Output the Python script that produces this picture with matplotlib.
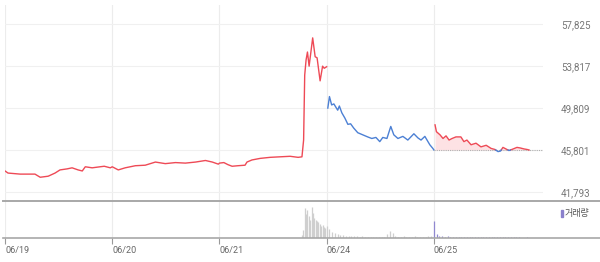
import matplotlib
matplotlib.use("Agg")
import matplotlib.pyplot as plt
from matplotlib.lines import Line2D
from matplotlib.patches import Rectangle
import numpy as np

# ---------------- data ----------------
days = ["06/19", "06/20", "06/21", "06/24", "06/25"]
session_minutes = 390  # 09:00 - 15:30
y_ticks = [41793, 45801, 49809, 53817, 57825]
prev_close = 45800

t_0619 = ["09:00", "09:11", "09:55", "10:49", "11:08", "11:37", "12:02", "12:20", "12:46",
          "13:04", "13:26", "13:41", "13:52", "14:17", "14:46", "15:01", "15:23"]
p_0619 = [43800, 43600, 43500, 43500, 43200, 43300, 43600, 43900, 44000,
          44100, 43900, 43800, 44200, 44100, 44200, 44250, 44100]

t_0620 = ["09:00", "09:22", "09:47", "10:24", "11:00", "11:37", "12:13", "12:50", "13:26",
          "14:03", "14:39", "15:04", "15:26"]
p_0620 = [44200, 43900, 44100, 44300, 44350, 44650, 44500, 44600, 44550,
          44650, 44800, 44650, 44450]

t_0621 = ["09:00", "09:16", "09:31", "09:46", "10:07", "10:33", "10:40", "10:58", "11:28",
          "12:04", "12:40", "13:17", "13:46", "14:00", "14:06", "14:10", "14:15", "14:20",
          "14:26", "14:39", "14:48", "14:55", "15:06", "15:15", "15:21", "15:30"]
p_0621 = [44550, 44600, 44400, 44250, 44300, 44350, 44650, 44850, 45000,
          45100, 45150, 45200, 45100, 45150, 46750, 52950, 54400, 55150,
          53800, 56500, 54700, 54600, 52400, 53800, 53600, 53750]

t_0624 = ["09:04", "09:10", "09:18", "09:26", "09:33", "09:40", "09:46", "09:55", "10:06",
          "10:17", "10:27", "10:38", "10:53", "11:11", "11:29", "11:44", "11:59", "12:13",
          "12:24", "12:39", "12:53", "13:04", "13:19", "13:37", "13:55", "14:17", "14:32",
          "14:43", "14:57", "15:15", "15:26", "15:30"]
p_0624 = [49800, 50900, 50100, 50200, 49900, 49600, 50000, 49350, 48850,
          48250, 48300, 47900, 47450, 47250, 47050, 46900, 47000, 46600,
          47000, 46900, 48050, 47250, 46900, 47100, 46750, 47350, 46950,
          46750, 47100, 46300, 45950, 45800]

t_0625 = ["09:04", "09:09", "09:22", "09:33", "09:44", "09:55", "10:06", "10:20", "10:38",
          "10:49", "11:00", "11:15", "11:33", "11:51", "12:10", "12:28", "12:42", "12:53",
          "13:02", "13:11", "13:22", "13:33", "13:48", "14:02", "14:13", "14:28", "14:39",
          "14:46"]
p_0625 = [48200, 47550, 47250, 46900, 47150, 46750, 46900, 47050, 47050,
          46600, 46750, 46300, 46450, 46100, 46250, 45950, 45850, 45650,
          45700, 46050, 45900, 45750, 45900, 46050, 46000, 45900, 45850,
          45800]

# volume (thousand shares)
vol_0621_start, vol_0621_step = "14:00", 5
vol_0621 = [80, 220, 810, 650, 760, 590, 490, 840, 680, 540, 490, 460, 430, 380, 320, 350, 300, 270]
vol_0624_start, vol_0624_step = "09:00", 10
vol_0624 = [320, 240, 170, 140, 110, 90, 70, 60, 50, 60, 45, 50, 40, 45, 35, 40, 30, 35, 40, 30,
            35, 40, 120, 190, 130, 60, 40, 35, 45, 30, 35, 40, 50, 35, 40, 30, 40, 45, 60]
vol_0625_start, vol_0625_step = "09:00", 10
vol_0625 = [470, 110, 60, 50, 40, 45, 30, 40, 30, 35, 30, 25, 30, 25, 30, 20, 25, 20, 25, 20,
            30, 25, 20, 35, 25, 20, 25, 20, 30, 15, 20, 15, 10, 10, 15]

# ---------------- helpers ----------------
def tpos(day_idx, hhmm):
    h, m = map(int, hhmm.split(":"))
    return day_idx + ((h - 9) * 60 + m) / session_minutes

def xs_for(day_idx, times):
    return np.array([tpos(day_idx, t) for t in times])

def vol_x(day_idx, start, step, n):
    h, m = map(int, start.split(":"))
    m0 = (h - 9) * 60 + m
    return day_idx + (m0 + step * np.arange(n)) / session_minutes

RED = "#ee4a56"
BLUE = "#4c80d4"

W, H = 600, 262
fig = plt.figure(figsize=(W / 100, H / 100), dpi=100)
plt.rcParams['font.family'] = ['Roboto', 'DejaVu Sans']

left = 5 / W
width = (543 - 5) / W
ax = fig.add_axes([left, 1 - 201 / H, width, 196 / H])
axv = fig.add_axes([left, 1 - 238 / H, width, 37 / H])

xmax = 5.017
for a in (ax, axv):
    a.set_xlim(0, xmax)
    for s in a.spines.values():
        s.set_visible(False)
    a.set_xticks(range(len(days)))
    a.grid(axis='x', color='#ececec', linewidth=0.8)
    a.set_axisbelow(True)

# price panel
ax.set_ylim(40934, 59638)
ax.set_yticks(y_ticks)
ax.set_yticklabels([f"{v:,}" for v in y_ticks])
ax.yaxis.tick_right()
ax.tick_params(axis='y', length=0, pad=13, labelsize=7, labelcolor='#777777')
ax.tick_params(axis='x', length=0, labelbottom=False)
ax.grid(axis='y', color='#f0f0f0', linewidth=0.8)

# continuous red line 06/19 - 06/21
x_a = np.concatenate([xs_for(0, t_0619), xs_for(1, t_0620), xs_for(2, t_0621)])
y_a = np.array(p_0619 + p_0620 + p_0621, dtype=float)
ax.plot(x_a, y_a, color=RED, lw=1.0)

# 06/24 blue
ax.plot(xs_for(3, t_0624), p_0624, color=BLUE, lw=1.0)

# 06/25 coloured vs previous close
x5 = xs_for(4, t_0625)
y5 = np.array(p_0625, dtype=float)
xs, ys = [x5[0]], [y5[0]]
for i in range(1, len(x5)):
    if (y5[i - 1] - prev_close) * (y5[i] - prev_close) < 0:
        f = (prev_close - y5[i - 1]) / (y5[i] - y5[i - 1])
        xs.append(x5[i - 1] + f * (x5[i] - x5[i - 1]))
        ys.append(prev_close)
    xs.append(x5[i]); ys.append(y5[i])
xs = np.array(xs); ys = np.array(ys)
ax.hlines(prev_close, 4, xmax, colors='#b0b0b0', linestyles=(0, (1, 1)), lw=0.8)
ax.fill_between(xs, np.maximum(ys, prev_close), prev_close,
                color='#fde2e4', lw=0, antialiased=False)
ax.plot(xs, np.where(ys >= prev_close, ys, np.nan), color=RED, lw=1.0)
ax.plot(xs, np.where(ys <= prev_close, ys, np.nan), color=BLUE, lw=1.0)

# volume panel
axv.set_ylim(0, 1000)
axv.set_yticks([])
vx = vol_x(2, vol_0621_start, vol_0621_step, len(vol_0621))
axv.vlines(vx, 0, vol_0621, colors='#cfcfcf', lw=0.9)
vx = vol_x(3, vol_0624_start, vol_0624_step, len(vol_0624))
axv.vlines(vx, 0, vol_0624, colors='#cfcfcf', lw=0.9)
vx = vol_x(4, vol_0625_start, vol_0625_step, len(vol_0625))
axv.vlines(vx, 0, vol_0625, colors='#9088d0', lw=0.9)
axv.set_xticklabels(days, ha='left')
axv.tick_params(axis='x', length=4, width=0.8, color='#999999', pad=2,
                labelsize=6.5, labelcolor='#666666')

# separators
fig.add_artist(Line2D([3 / W, 1], [1 - 201 / H] * 2, color='#a8a8a8', lw=1.4,
                      transform=fig.transFigure))
fig.add_artist(Line2D([3 / W, 1], [1 - 238 / H] * 2, color='#a8a8a8', lw=1.2,
                      transform=fig.transFigure))

# volume legend
fig.add_artist(Rectangle((561 / W, 1 - 217 / H), 2 / W, 7 / H, color='#8a80cc',
                         transform=fig.transFigure))
fig.text(565 / W, 1 - 213.5 / H, "거래량", family=['Noto Sans CJK KR', 'DejaVu Sans'],
         fontsize=6.5, color='#555555', va='center', ha='left')

fig.savefig("out.png", dpi=100)
